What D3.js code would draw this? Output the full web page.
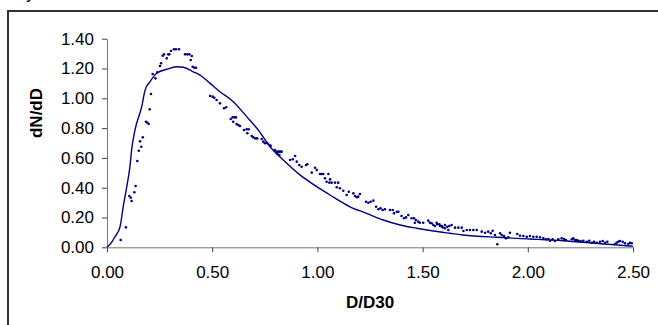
<!DOCTYPE html>
<html>
<head>
<meta charset="utf-8">
<script src="https://cdn.jsdelivr.net/npm/d3@7"></script>
<style>
  html, body { margin: 0; padding: 0; background: #fff; }
  svg { display: block; font-family: "Liberation Sans", Arial, sans-serif; }
</style>
</head>
<body>
<div id="chart"></div>
<script>
// fitted curve, [D/D30, dN/dD]
const curvePoints = [
  [0, 0], [0.02, 0.03], [0.038, 0.071], [0.062, 0.138], [0.077, 0.272], [0.094, 0.407], [0.109, 0.541],
  [0.117, 0.653], [0.133, 0.787], [0.165, 0.944], [0.181, 1.055], [0.204, 1.111], [0.236, 1.168],
  [0.284, 1.195], [0.331, 1.212], [0.363, 1.208], [0.41, 1.178], [0.442, 1.156], [0.49, 1.10],
  [0.537, 1.044], [0.60, 0.977], [0.664, 0.877], [0.719, 0.787], [0.775, 0.675], [0.838, 0.586],
  [0.917, 0.486], [0.997, 0.407], [1.06, 0.351], [1.155, 0.272], [1.234, 0.228], [1.313, 0.183],
  [1.393, 0.150], [1.472, 0.128], [1.551, 0.109], [1.63, 0.094], [1.692, 0.083], [1.852, 0.067],
  [2.01, 0.056], [2.167, 0.044], [2.324, 0.027], [2.486, 0.009], [2.5, 0.008]
];

// measured points, [D/D30, dN/dD]
const measured = [
  [0.065, 0.049], [0.09, 0.134], [0.106, 0.344], [0.113, 0.333], [0.117, 0.311], [0.13, 0.369],
  [0.136, 0.411], [0.144, 0.579], [0.151, 0.648], [0.157, 0.711], [0.163, 0.675], [0.17, 0.738],
  [0.185, 0.843], [0.192, 0.836], [0.198, 0.828], [0.203, 0.926], [0.209, 1.029], [0.217, 1.163],
  [0.23, 1.134], [0.239, 1.174], [0.252, 1.217], [0.257, 1.235], [0.265, 1.286], [0.271, 1.295],
  [0.284, 1.268], [0.291, 1.295], [0.296, 1.295], [0.304, 1.317], [0.318, 1.329], [0.328, 1.329],
  [0.342, 1.329], [0.371, 1.295], [0.382, 1.295], [0.391, 1.295], [0.403, 1.284], [0.398, 1.257],
  [0.407, 1.212], [0.415, 1.205], [0.423, 1.205], [0.49, 1.015], [0.502, 1.011], [0.51, 1.004],
  [0.521, 0.989], [0.537, 0.966], [0.556, 0.933], [0.566, 0.94], [0.588, 0.861], [0.597, 0.872],
  [0.605, 0.872], [0.613, 0.872], [0.60, 0.843], [0.616, 0.827], [0.624, 0.821], [0.632, 0.814],
  [0.651, 0.787], [0.664, 0.792], [0.673, 0.792], [0.667, 0.765], [0.688, 0.747], [0.695, 0.738],
  [0.705, 0.731], [0.714, 0.731], [0.735, 0.727], [0.743, 0.709], [0.751, 0.698], [0.762, 0.698],
  [0.771, 0.687], [0.778, 0.682], [0.798, 0.653], [0.806, 0.642], [0.814, 0.642], [0.822, 0.642],
  [0.830, 0.642], [0.81, 0.626], [0.819, 0.619], [0.87, 0.586], [0.883, 0.591], [0.894, 0.613],
  [0.902, 0.575], [0.914, 0.552], [0.925, 0.541], [0.946, 0.552], [0.952, 0.557], [0.973, 0.501],
  [0.989, 0.534], [0.997, 0.519], [1.012, 0.492], [1.02, 0.492], [1.028, 0.492], [1.052, 0.492],
  [1.036, 0.463], [1.044, 0.44], [1.057, 0.434], [1.068, 0.434], [1.084, 0.434], [1.099, 0.434],
  [1.06, 0.456], [1.092, 0.403], [1.107, 0.396], [1.123, 0.38], [1.139, 0.351], [1.149, 0.373],
  [1.171, 0.362], [1.179, 0.344], [1.187, 0.336], [1.194, 0.34], [1.202, 0.358], [1.231, 0.306],
  [1.242, 0.299], [1.253, 0.306], [1.266, 0.313], [1.279, 0.272], [1.29, 0.255], [1.3, 0.262],
  [1.31, 0.25], [1.321, 0.255], [1.345, 0.25], [1.358, 0.25], [1.364, 0.228], [1.377, 0.239],
  [1.385, 0.239], [1.40, 0.21], [1.412, 0.195], [1.421, 0.201], [1.432, 0.217], [1.448, 0.195],
  [1.459, 0.195], [1.468, 0.183], [1.479, 0.172], [1.463, 0.165], [1.487, 0.165], [1.503, 0.165],
  [1.527, 0.179], [1.535, 0.165], [1.543, 0.161], [1.551, 0.15], [1.567, 0.165], [1.559, 0.143],
  [1.57, 0.155], [1.58, 0.154], [1.583, 0.143], [1.591, 0.143], [1.595, 0.134], [1.606, 0.15],
  [1.617, 0.138], [1.627, 0.143], [1.638, 0.15], [1.606, 0.128], [1.622, 0.116], [1.654, 0.132],
  [1.67, 0.132], [1.686, 0.132], [1.694, 0.109], [1.71, 0.116], [1.725, 0.116], [1.741, 0.116],
  [1.757, 0.116], [1.781, 0.105], [1.797, 0.098], [1.812, 0.105], [1.824, 0.094], [1.833, 0.111],
  [1.844, 0.083], [1.855, 0.02], [1.868, 0.094], [1.876, 0.083], [1.887, 0.076], [1.896, 0.06],
  [1.907, 0.067], [1.915, 0.098], [1.95, 0.089], [1.963, 0.078], [1.979, 0.076], [1.995, 0.071],
  [2.01, 0.076], [2.026, 0.071], [2.042, 0.071], [2.058, 0.067], [2.074, 0.06], [2.087, 0.054],
  [2.098, 0.056], [2.106, 0.044], [2.118, 0.054], [2.129, 0.042], [2.145, 0.054], [2.161, 0.06],
  [2.172, 0.056], [2.181, 0.049], [2.209, 0.054], [2.216, 0.06], [2.224, 0.049], [2.232, 0.049],
  [2.24, 0.044], [2.251, 0.042], [2.264, 0.044], [2.28, 0.037], [2.292, 0.044], [2.304, 0.031],
  [2.315, 0.037], [2.328, 0.031], [2.343, 0.037], [2.356, 0.042], [2.367, 0.031], [2.378, 0.037],
  [2.414, 0.022], [2.422, 0.031], [2.43, 0.037], [2.438, 0.042], [2.451, 0.037], [2.462, 0.027],
  [2.478, 0.022], [2.486, 0.031], [2.494, 0.027]
];

const xTicks = [0, 0.5, 1.0, 1.5, 2.0, 2.5];
const yTicks = [0, 0.2, 0.4, 0.6, 0.8, 1.0, 1.2, 1.4];

const width = 658;
const height = 325;
const navy = '#000080';

const svg = d3.select('#chart')
  .append('svg')
  .attr('width', width)
  .attr('height', height);

// tail of a caption cut off above the picture
svg.append('text')
  .attr('x', 26)
  .attr('y', -1)
  .attr('font-size', 17)
  .text('y');

// chart frame (only top and left edges fall inside the picture)
svg.append('rect')
  .attr('x', 8)
  .attr('y', 11)
  .attr('width', 700)
  .attr('height', 400)
  .attr('fill', 'none')
  .attr('stroke', '#333')
  .attr('stroke-width', 2);

const x = d3.scaleLinear().domain([0, 2.5]).range([107, 633]);
const y = d3.scaleLinear().domain([0, 1.4]).range([247.3, 38.7]);

const fmt = d3.format('.2f');

const xAxis = svg.append('g')
  .attr('transform', 'translate(0,' + y(0) + ')')
  .call(d3.axisBottom(x).tickValues(xTicks).tickFormat(fmt).tickSize(5).tickSizeOuter(0).tickPadding(14));

const yAxis = svg.append('g')
  .attr('transform', 'translate(' + x(0) + ',0)')
  .call(d3.axisLeft(y).tickValues(yTicks).tickFormat(fmt).tickSize(5).tickSizeOuter(0).tickPadding(8));

[xAxis, yAxis].forEach(g => {
  g.attr('font-family', '"Liberation Sans", Arial, sans-serif').attr('font-size', 17);
  g.select('.domain').attr('stroke', '#777');
  g.selectAll('.tick line').attr('stroke', '#444');
  g.selectAll('.tick text').attr('fill', '#000');
});

// fitted curve
const line = d3.line()
  .x(d => x(d[0]))
  .y(d => y(d[1]))
  .curve(d3.curveMonotoneX);

svg.append('path')
  .datum(curvePoints)
  .attr('d', line)
  .attr('fill', 'none')
  .attr('stroke', navy)
  .attr('stroke-width', 1.4);

// measured dots
svg.append('g')
  .selectAll('circle')
  .data(measured)
  .join('circle')
  .attr('cx', d => x(d[0]))
  .attr('cy', d => y(d[1]))
  .attr('r', 1.3)
  .attr('fill', navy);

// axis titles
svg.append('text')
  .attr('x', (x(0) + x(2.5)) / 2)
  .attr('y', 308)
  .attr('text-anchor', 'middle')
  .attr('font-size', 17)
  .attr('font-weight', 'bold')
  .text('D/D30');

svg.append('text')
  .attr('transform', 'translate(42,113) rotate(-90)')
  .attr('text-anchor', 'middle')
  .attr('font-size', 17)
  .attr('font-weight', 'bold')
  .text('dN/dD');
</script>
</body>
</html>
